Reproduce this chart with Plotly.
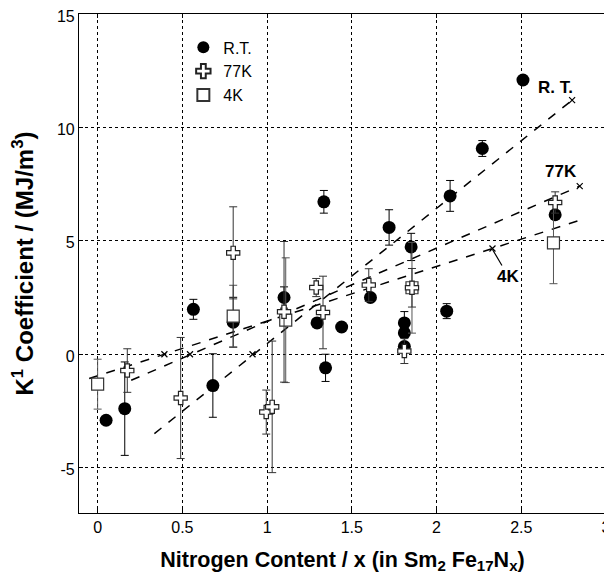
import plotly.graph_objects as go

# R.T. data (x, K1, error)
rt_x = [0.05, 0.16, 0.565, 0.68, 0.80, 1.10, 1.295, 1.335, 1.345, 1.44, 1.61,
        1.72, 1.81, 1.81, 1.81, 1.85, 2.06, 2.08, 2.27, 2.51, 2.70]
rt_y = [-2.91, -2.40, 1.98, -1.38, 1.41, 2.50, 1.38, 6.72, -0.60, 1.20, 2.50,
        5.59, 1.38, 0.94, 0.34, 4.73, 1.90, 6.98, 9.07, 12.09, 6.15]
rt_e = [0, 2.06, 0.44, 1.4, 1.1, 0.47, 0, 0.5, 0.6, 0, 0,
        0.78, 0.5, 0, 0, 0.6, 0.33, 0.68, 0.35, 0, 0]

# 77K data
k77_x = [0.175, 0.49, 0.80, 0.995, 1.03, 1.10, 1.29, 1.33, 1.60, 1.81, 1.855, 2.70]
k77_y = [-0.72, -1.93, 4.47, -2.55, -2.32, 1.87, 2.94, 1.84, 3.05, 0.14, 2.93, 6.69]
k77_e = [0.96, 2.67, 2.03, 0.97, 2.9, 3.1, 0.4, 1.6, 0.72, 0.55, 0.85, 0.47]

# 4K data
k4_x = [0.0, 0.80, 1.11, 1.855, 2.69]
k4_y = [-1.32, 1.68, 1.50, 2.93, 4.91]
k4_e = [1.1, 1.36, 2.75, 2.0, 1.8]

# fitted lines (endpoints)
fit_rt_x = [0.335, 2.80]
fit_rt_y = [-3.5, 11.2]
fit_77_x = [0.198, 2.845]
fit_77_y = [-1.15, 7.41]
fit_4_x = [-0.05, 2.835]
fit_4_y = [-1.07, 5.88]

# small x marks on the fit lines
mark_x = [0.914, 2.80, 0.545, 2.845, 0.394, 2.33]
mark_y = [0.0, 11.2, 0.0, 7.41, 0.0, 4.66]

x_ticks = [0, 0.5, 1, 1.5, 2, 2.5, 3]
y_ticks = [-5, 0, 5, 10, 15]

fig = go.Figure()

line_style = dict(color="black", width=1.5, dash="dash")
for fx, fy in [(fit_rt_x, fit_rt_y), (fit_77_x, fit_77_y), (fit_4_x, fit_4_y)]:
    fig.add_trace(go.Scatter(x=fx, y=fy, mode="lines", line=line_style,
                             showlegend=False, hoverinfo="skip"))

fig.add_trace(go.Scatter(x=mark_x, y=mark_y, mode="markers",
                         marker=dict(symbol="x-thin-open", size=6, color="black",
                                     line=dict(color="black", width=1.2)),
                         showlegend=False, hoverinfo="skip"))

fig.add_trace(go.Scatter(
    x=rt_x, y=rt_y, mode="markers", name="R.T.", legendrank=1,
    marker=dict(symbol="circle", size=13, color="black"),
    error_y=dict(type="data", array=rt_e, color="black", thickness=1, width=4)))

fig.add_trace(go.Scatter(
    x=k4_x, y=k4_y, mode="markers", name="4K", legendrank=3,
    marker=dict(symbol="square", size=12, color="white",
                line=dict(color="#333", width=1.2)),
    error_y=dict(type="data", array=k4_e, color="#555", thickness=1, width=4)))

fig.add_trace(go.Scatter(
    x=k77_x, y=k77_y, mode="markers", name="77K", legendrank=2,
    marker=dict(symbol="cross", size=11, color="white",
                line=dict(color="#222", width=1.2)),
    error_y=dict(type="data", array=k77_e, color="#333", thickness=1, width=4)))

narrow = "Liberation Sans Narrow, Arial Narrow, Liberation Sans, Arial"
lab_font = dict(family=narrow, size=17, color="black")
fig.add_annotation(x=2.70, y=11.75, text="<b>R. T.</b>", showarrow=False, font=lab_font)
fig.add_annotation(x=2.735, y=8.05, text="<b>77K</b>", showarrow=False, font=lab_font)
fig.add_annotation(x=2.33, y=4.62, text="<b>4K</b>", showarrow=True, ax=16, ay=27,
                   arrowhead=0, arrowwidth=1.2, arrowcolor="black", font=lab_font)

axis_common = dict(showline=True, linecolor="black", linewidth=1.2, mirror="ticks",
                   showgrid=True, gridcolor="black", griddash="dot", gridwidth=1,
                   zeroline=False, ticks="inside", ticklen=4, tickcolor="black",
                   automargin=False, ticklabeloverflow="allow",
                   tickfont=dict(family="Liberation Sans, Arial", size=16, color="black"))

fig.update_xaxes(range=[-0.11, 3.0], tickvals=x_ticks, ticktext=[str(t) for t in x_ticks],
                 title=dict(text="<b>Nitrogen Content / x (in Sm<sub>2</sub> Fe<sub>17</sub>N<sub>x</sub>)</b>",
                            font=dict(family=narrow, size=21.5, color="black"), standoff=16),
                 **axis_common)
fig.update_yaxes(range=[-7, 15], tickvals=y_ticks, ticktext=[str(t) for t in y_ticks],
                 ticklabelshift=2,
                 title=dict(text="<b>K<sup>1</sup> Coefficient / (MJ/m<sup>3</sup>)</b>",
                            font=dict(family="Liberation Sans, Arial", size=24, color="black"),
                            standoff=18),
                 **axis_common)

# the page body adds an 8px offset, so the figure is 8px smaller
fig.update_layout(
    width=604, height=569,
    margin=dict(l=71, r=6, t=6, b=64),
    plot_bgcolor="white", paper_bgcolor="white",
    legend=dict(x=0.198, y=0.967, xanchor="left", yanchor="top",
                bgcolor="rgba(0,0,0,0)", tracegroupgap=0,
                font=dict(family="Liberation Sans, Arial", size=16, color="black"),
                itemsizing="constant"),
)

fig.write_html("out.html")
